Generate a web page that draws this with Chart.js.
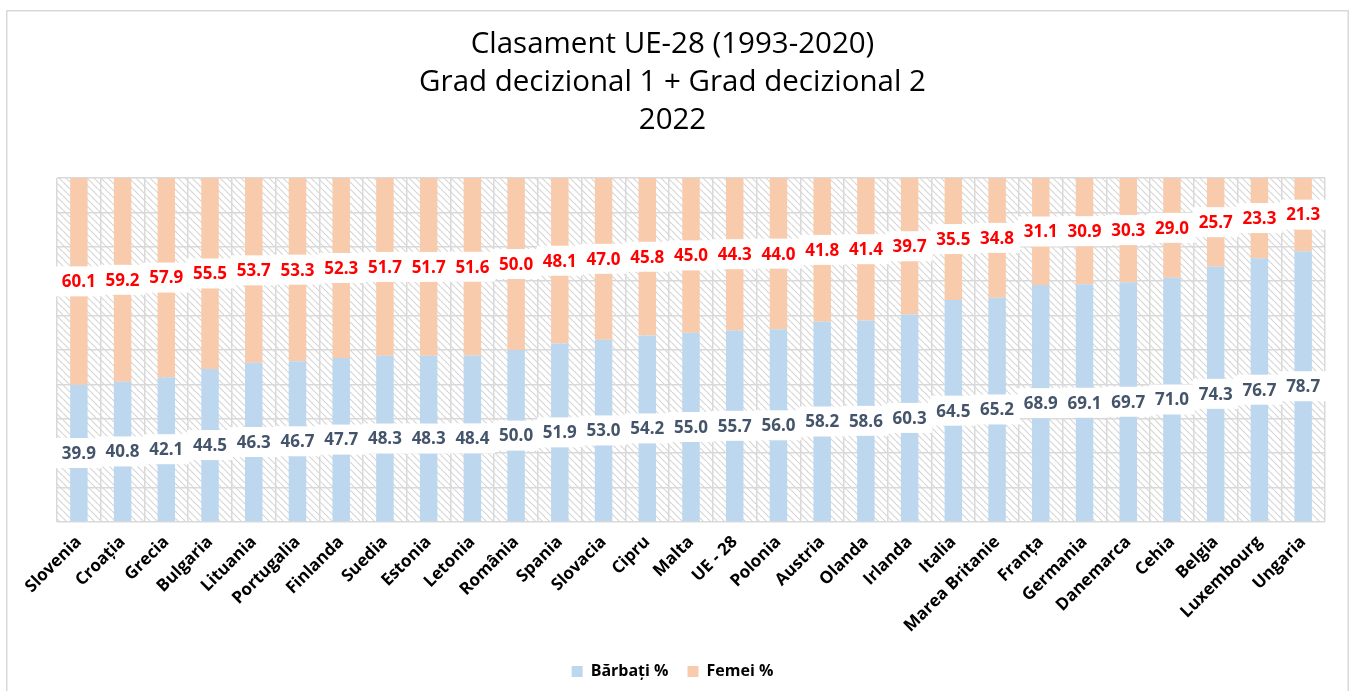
<!DOCTYPE html>
<html>
<head>
<meta charset="utf-8">
<script src="https://cdn.jsdelivr.net/npm/chart.js@4.4.1/dist/chart.umd.min.js"></script>
<style>
html,body{margin:0;padding:0;background:#fff;overflow:hidden;}
#wrap{position:relative;width:1351px;height:691px;}
</style>
</head>
<body>
<div id="wrap"><canvas id="c"></canvas></div>
<script>
const categories = ["Slovenia","Croația","Grecia","Bulgaria","Lituania","Portugalia","Finlanda","Suedia","Estonia","Letonia","România","Spania","Slovacia","Cipru","Malta","UE - 28","Polonia","Austria","Olanda","Irlanda","Italia","Marea Britanie","Franța","Germania","Danemarca","Cehia","Belgia","Luxembourg","Ungaria"];
const barbati = [39.9,40.8,42.1,44.5,46.3,46.7,47.7,48.3,48.3,48.4,50.0,51.9,53.0,54.2,55.0,55.7,56.0,58.2,58.6,60.3,64.5,65.2,68.9,69.1,69.7,71.0,74.3,76.7,78.7];
const femei = [60.1,59.2,57.9,55.5,53.7,53.3,52.3,51.7,51.7,51.6,50.0,48.1,47.0,45.8,45.0,44.3,44.0,41.8,41.4,39.7,35.5,34.8,31.1,30.9,30.3,29.0,25.7,23.3,21.3];
const seriesNames = ["Bărbați %","Femei %"];
const titleLines = ["Clasament UE-28 (1993-2020)","Grad decizional 1 + Grad decizional 2","2022"];
const yTicks = [0,10,20,30,40,50,60,70,80,90,100];

const canvas = document.getElementById('c');
const ctx0 = canvas.getContext('2d');

function makeHatch(){
  const s = 7;
  const c = document.createElement('canvas'); c.width = s; c.height = s;
  const g = c.getContext('2d');
  g.fillStyle = '#ffffff'; g.fillRect(0,0,s,s);
  g.strokeStyle = '#d6d6d6'; g.lineWidth = 1.2;
  g.beginPath();
  g.moveTo(0,0); g.lineTo(s,s);
  g.moveTo(s,0); g.lineTo(2*s,s);
  g.moveTo(-s,0); g.lineTo(0,s);
  g.stroke();
  return ctx0.createPattern(c,'repeat');
}
const hatch = makeHatch();

const bgPlugin = {
  id:'bg',
  beforeDraw(chart){
    const ctx = chart.ctx, a = chart.chartArea;
    ctx.save();
    ctx.fillStyle = '#fff'; ctx.fillRect(0,0,chart.width,chart.height);
    ctx.strokeStyle = '#d9d9d9'; ctx.lineWidth = 1.5;
    ctx.strokeRect(6.75, 10.75, 1341.5, 720);
    ctx.fillStyle = hatch;
    ctx.fillRect(a.left, a.top, a.right-a.left, a.bottom-a.top);
    ctx.restore();
  }
};

const labelPlugin = {
  id:'vlabels',
  afterDatasetsDraw(chart){
    const ctx = chart.ctx;
    const xs = chart.scales.x;
    const cw = (xs.right - xs.left)/categories.length;
    const colors = ['#44546a','#ff0000'];
    ctx.save();
    ctx.font = 'bold 17px "Open Sans"';
    ctx.textAlign = 'center';
    ctx.textBaseline = 'middle';
    chart.data.datasets.forEach((ds,di)=>{
      const meta = chart.getDatasetMeta(di);
      meta.data.forEach((bar,i)=>{
        const y = (bar.y + bar.base)/2;
        ctx.fillStyle = '#ffffff';
        ctx.fillRect(bar.x - cw/2 - 1, y - 15, cw + 2, 30);
      });
      meta.data.forEach((bar,i)=>{
        const y = (bar.y + bar.base)/2;
        ctx.fillStyle = colors[di];
        ctx.fillText(ds.data[i].toFixed(1), bar.x, y + 1);
      });
    });
    ctx.restore();
  }
};

new Chart(canvas, {
  type:'bar',
  data:{
    labels: categories,
    datasets:[
      {label: seriesNames[0], data: barbati, backgroundColor:'#bdd7ee', borderWidth:0, barPercentage:0.4, categoryPercentage:1},
      {label: seriesNames[1], data: femei, backgroundColor:'#f8cbad', borderWidth:0, barPercentage:0.4, categoryPercentage:1}
    ]
  },
  options:{
    responsive:true,
    maintainAspectRatio:false,
    animation:false,
    layout:{padding:{left:20, right:26, top:0, bottom:1.5}},
    plugins:{
      title:{display:true, text:titleLines, color:'#000', font:{family:'"Open Sans"', size:29.5, weight:'normal', lineHeight:1.28}, padding:{top:26, bottom:38.7}},
      legend:{position:'bottom', labels:{color:'#000', font:{family:'"Open Sans"', size:16, weight:'bold'}, boxWidth:11, boxHeight:11, padding:19}},
      tooltip:{enabled:false}
    },
    scales:{
      x:{
        stacked:true,
        offset:true,
        grid:{display:true, offset:true, color:'#d9d9d9', lineWidth:1.5, drawTicks:false},
        border:{display:false},
        ticks:{color:'#000', font:{family:'"Open Sans"', size:17, weight:'bold'}, minRotation:45, maxRotation:45, autoSkip:false, padding:10},
        afterFit(s){ s.height = 122.5; }
      },
      y:{
        stacked:true,
        min:0, max:100,
        afterBuildTicks(s){ s.ticks = yTicks.map(v=>({value:v})); },
        grid:{color:'#d9d9d9', lineWidth:1.5, drawTicks:false},
        border:{display:false},
        ticks:{display:false},
        afterFit(s){ s.width = 37; }
      }
    }
  },
  plugins:[bgPlugin, labelPlugin]
});
</script>
</body>
</html>
